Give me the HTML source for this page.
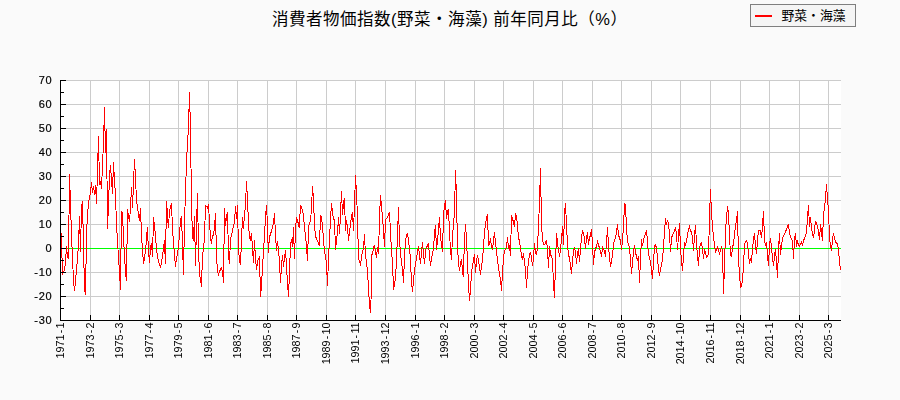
<!DOCTYPE html>
<html lang="ja"><head><meta charset="utf-8"><title>消費者物価指数(野菜・海藻) 前年同月比（%）</title>
<style>
html,body{margin:0;padding:0;background:#fafafa;}
body{width:900px;height:400px;overflow:hidden;font-family:"Liberation Sans",sans-serif;}
svg{display:block;}
.yl text{font:11px "Liberation Sans",sans-serif;fill:#000;stroke:#000;stroke-width:.2px;text-anchor:end;letter-spacing:.8px}
.xl text{font:11.6px "Liberation Sans",sans-serif;fill:#000;text-anchor:end}
</style></head><body>
<svg width="900" height="400" viewBox="0 0 900 400" role="img" aria-label="消費者物価指数(野菜・海藻) 前年同月比（%）">
<rect width="900" height="400" fill="#fafafa"/>
<rect x="60" y="80" width="781" height="241" fill="#fff"/>
<path shape-rendering="crispEdges" fill="#cccccc" d="M90 80h1v240h-1zM119 80h1v240h-1zM149 80h1v240h-1zM178 80h1v240h-1zM208 80h1v240h-1zM237 80h1v240h-1zM267 80h1v240h-1zM296 80h1v240h-1zM326 80h1v240h-1zM355 80h1v240h-1zM385 80h1v240h-1zM415 80h1v240h-1zM444 80h1v240h-1zM474 80h1v240h-1zM503 80h1v240h-1zM533 80h1v240h-1zM562 80h1v240h-1zM592 80h1v240h-1zM621 80h1v240h-1zM651 80h1v240h-1zM680 80h1v240h-1zM710 80h1v240h-1zM740 80h1v240h-1zM769 80h1v240h-1zM799 80h1v240h-1zM828 80h1v240h-1zM61 80h780v1h-780zM61 104h780v1h-780zM61 128h780v1h-780zM61 152h780v1h-780zM61 176h780v1h-780zM61 200h780v1h-780zM61 224h780v1h-780zM61 248h780v1h-780zM61 272h780v1h-780zM61 296h780v1h-780z"/>
<rect shape-rendering="crispEdges" x="61" y="248" width="780" height="1" fill="#00ff00"/>
<path id="series" fill="none" stroke="#ff0000" stroke-width="1" stroke-linejoin="miter" shape-rendering="crispEdges" d="M60.5 226.5 61.5 239.5 62.5 274.5 64.5 270 65.5 262 66.5 246 67.5 257 68.5 258.5 69.5 174 71.5 235 72.5 258 73.5 280 74.5 291 75.5 281 77.5 258 78.5 245 79.5 216 80.5 251.5 81.5 207 82.5 201 84.5 289 85.5 295 86.5 234 87.5 215 88.5 203 90.5 193 91.5 182 92.5 193 93.5 186 94.5 194.5 95.5 185 96.5 203.5 97.5 170 98.5 136 99.5 185 100.5 181 101.5 188.5 102.5 165 103.5 143 104.5 107 105.5 153 106.5 129 107.5 228.5 108.5 205 109.5 176 110.5 165 111.5 181 112.5 193.5 113.5 162 114.5 180 115.5 195 116.5 225 117.5 240 118.5 258 119.5 271 120.5 290 121.5 211 122.5 213 123.5 238 124.5 255 125.5 272 126.5 281 127.5 209 128.5 216 129.5 221.5 130.5 208 131.5 187 132.5 207.5 133.5 183 134.5 159 135.5 178 136.5 200 137.5 207 138.5 214 139.5 221 140.5 208 141.5 235 142.5 250 143.5 263.5 144.5 258 145.5 250 146.5 240 147.3 227 148.5 250 149.5 263 150.5 248 151.5 243 152.5 257 153.5 217 154.5 226 155.5 236 156.5 250 157.5 255 158.5 262 159.5 264 160.5 268 161.5 262 162.5 256 163.5 249 164.5 240 165.4 264 166.5 201 167.5 215 168.3 228 169.5 212 170.5 207 171.5 203 172.5 229 173.5 243 174.5 255 175.5 267 176.5 258 177.5 254 178.5 247 179.5 233 180.5 221 181.5 216 182.5 245 183.5 275 184.5 220 185.5 194 186.5 160 187.5 144 188.5 126 189.5 92 190.5 130 191.5 205 192.5 236 193.4 241 194.5 216 195.5 266 196.5 225 197.5 193 198.5 250 199.5 274 200.5 279 201.5 286.5 202.5 255 203.5 250 204.5 236 205.5 206 206.5 206.5 207.5 208 208.5 204 209.5 222 210.5 238 211.5 243.5 212.5 235 213.5 235 214.5 227 215.5 213 216.5 255 217.5 272 218.5 274.5 219.5 272 220.5 269 221.5 268 222.5 272 223.5 282.5 224.5 208 225.5 226 226.5 217 227.5 212 228.5 255 229.5 264 230.5 238 231.5 236 232.5 230 233.5 226 234.5 222 235.5 206 236.5 219 237.5 205 238.5 250 239.5 260 240.5 265 241.5 240 242.5 217 243.3 229 244.5 216 245.5 205 246.5 181 247.5 200 248.5 223 249.5 238 250.5 240 251.5 233 252.5 248 253.5 263 254.5 240 255.5 258 256.5 270 257.5 262 258.5 258.5 259.5 257 260.5 296.5 261.5 285 262.5 268 263.5 250 264.5 236 265.5 217 266.5 205 267.5 225 268.3 252.5 269.5 237 270.5 234 271.5 231 272.5 227 273.5 223 274.5 213 275.5 235 276.5 251 277.5 241 278.5 250 279.5 261.5 280.5 283 281.5 265 282.5 255 283.5 267 284.5 258 285.5 250 286.5 266 287.5 283 288.5 296.5 289.5 272 290.5 245 291.5 239 292.5 247 293.5 227 294.5 259 295.5 229 296.5 217 297.5 221 298.5 224 299.3 228 300.5 205 301.5 208 302.5 210.5 303.5 216 304.5 227 305.5 236 306.5 246 307.5 261 308.5 228 309.5 223 310.5 221.5 311.5 208 312.5 186 313.5 200 314.5 225 315.5 236 316.5 239 317.5 241 318.5 243.5 319.5 246 320.5 215 321.5 218 322.5 226 323.5 240 324.5 252 325.5 256.5 326.5 264 327.5 286 328.5 258 329.5 238 330.5 220 331.5 203 332.5 213 333.5 218 334.5 221 335.5 249.5 336.5 240 337.5 233 338.5 217 339.5 234 340.5 214 341.5 191 342.5 215 343.5 203 344.5 198 345.5 231 346.5 220 347.5 227 348.5 240.5 349.5 232 350.5 224 351.5 216 352.5 212 353.5 231 354.5 205 355.5 175 356.5 193 357.5 217 358.5 259 359.5 261 360.5 265.5 361.5 256 362.5 251.5 363.5 249 364.5 234 365.5 256 366.5 262 367.5 271 368.5 288 369.5 305 370.5 312.5 371 300 371.9 254 372.5 254 373.5 248 374.5 245 375.5 252 376.5 257.5 377.5 247 378.5 254 379.5 218 380.5 195 381.5 207 382.5 216 383.5 232 384.5 246.5 385.5 220 386.5 219.5 387.5 217 388.5 215 389.5 212 390.5 232 391.5 251 392.5 262 393.5 289.5 394.5 284 395.5 278 396.5 260 397.5 235 398.5 207 399.5 240 400.5 253 401.5 262 402.5 270 403.5 282.5 404.5 257 405.5 241 406.5 236 407.5 233 408.5 241 409.5 248 410.5 260 411.5 283 412.5 291.5 413.5 280 414.5 270 415.5 264 416.5 258 417.5 252 418.5 246 419.5 256 420.5 264 421.5 252 422.5 242 423.5 254 424.5 264 425.5 252 426.5 247 427.5 246 428.5 243 429.5 256 430.5 266 431.5 258 432.5 254 433.5 248 434.5 234 435.5 225 436.5 250 437.5 240 438.5 230 439.5 217 440.5 238 441.5 244 442.5 252 443.5 215 444.5 206 445.5 200 446.5 219 447.5 212 448.5 209 449.5 232 450.5 250 451.5 260 452.5 236 453.5 224 454.5 212 455.5 170 456.5 196 457.5 248 458.5 262 459.5 271 460.5 263 461.5 259 462.5 270 463.2 277 464.5 240 465.5 224 466.5 240 467.5 262 468.5 285 469.5 300.5 470.5 290 471.5 272 472.5 265.5 473.5 261 474.5 254 475.5 273 476.5 262 477.5 255 478.5 260 479.5 267 480.5 275 481.5 266 482.5 260 483.5 247 484.5 232 485.5 224 486.5 219 487.5 214 488.5 246 489.5 243 490.5 240 491.5 245 492.5 250 493.5 241 494.5 232 495.5 243 496.5 251 497.5 260 498.5 268 499.5 274 500.5 279 501.5 291 502.5 272 503.5 258 504.5 251 505.5 249 506.5 247 507.5 237 508.5 248 509.5 246 510.5 255.5 511.5 215 512.5 219 513.5 222 514.5 227 515.5 214 516.5 215.5 517.5 226 518.5 238 519.5 241 520.5 248 521.5 255 522.5 260 523.5 253 524.5 262 525.5 270 526.5 288 527.5 271 528.5 262 529.5 255 530.5 252 531.5 258 532.5 265.5 533.5 258 534.5 243 535.5 252 536.5 255 537.5 247 538.5 226 539.5 202 540.5 168 541.5 224 542.5 240 543.5 244 544.5 244.5 545.5 243 546.5 240 547.5 250 548.5 268 549.5 246 550.5 254 551.5 257 552.5 259 553.5 285 554.5 297.5 555.5 264.5 556.5 233 557.5 243 558.5 250 559.5 256.5 560.5 249 561.5 240 562.5 226 563.5 245 564.5 214 565.5 203 566.5 225 567.5 244 568.5 255 569.5 258 570.5 266 571.5 273.5 572.5 261 573.5 252 574.5 247 575.5 253 576.5 263.5 577.5 253 578.5 248.5 579.5 262 580.5 248 581.5 238 582.5 230 583.5 234 584.5 238 585.5 249 586.5 238 587.5 232 588.5 245 589.5 238 590.5 235 591.5 229 592.5 245 593.5 265 594.5 252 595.5 249 596.5 246 597.5 242 598.5 245 599.5 248 600.5 252 601.5 256.5 602.5 247 603.5 249 604.5 251 605.5 256.5 606.5 243 607.5 227 608.5 246 609.5 258 610.5 266.5 611.5 262 612.5 255 613.5 245 614.5 240 615.5 238 616.5 232 617.5 224 618.5 235 619.5 238 620.5 241 621.5 249.5 622.5 240 623.5 227 624.5 204 625.5 204.5 626.5 228 627.5 241 628.5 244.5 629.5 248 630.5 260 631.5 273.5 632.5 262 633.5 252 634.5 245 635.5 253 636.5 256 637.5 261 638.5 256 639.5 283 640.5 258 641.5 239 642.5 246 643.5 241 644.5 236 645.5 233.5 646.5 230 647.5 242 648.5 255 649.5 257 650.5 262 651.5 270 652.5 279 653.5 262 654.5 246 655.5 245 656.5 248 657.5 257 658.5 270 659.5 276 660.5 268 661.5 266 662.5 259 663.5 247 664.5 232 665.5 218 666.5 225 667.5 220 668.5 224 669.5 234 670.5 252 671.5 238 672.5 235 673.5 233 674.5 230.5 675.5 227 676.5 235 677.5 249.5 678.5 236 679.5 223 680.5 248 681.5 262 682.5 270.5 683.5 255 684.5 243 685.5 245 686.5 241 687.5 235 688.5 230 689.5 227 690.5 231 691.5 232 692.5 238 693.5 250.5 694.5 236 695.5 225 696.5 243 697.5 256 698.5 265.5 699.5 248 700.5 244 701.5 242.5 702.5 250 703.5 258.5 704.5 249 705.5 253 706.5 257.5 707.5 256 708.5 254 709.5 218 710.5 189 711.5 213 712.5 227 713.5 237 714.5 245 715.5 252.5 716.5 249 717.5 247 718.5 250 719.5 254.5 720.5 250 721.5 247.5 722.5 251 723.5 294 724.5 266 725.5 231 726.5 218 727.5 206 728.5 214 729.5 235 730.5 255 731.5 256.5 732.5 247 733.5 244 734.5 234 735.5 226 736.5 221 737.5 211 738.5 259 739.5 275 740.5 287 741.5 286 742.5 281 743.5 266 744.5 244 745.5 242 746.5 240.5 747.5 243 748.5 254 749.5 263.5 750.5 258 751.5 262.5 752.5 248 753.5 240 754.5 233 755.5 246 756.5 254 757.5 240 758.5 230 759.5 230 760.5 231 761.5 238 762.5 226 763.5 211 764.5 240 765.5 246 766.5 242 767.5 255 768.5 266 769.5 244 770.5 238 771.5 248 772.5 258 773.5 266 774.5 256 775.5 249 776.5 262 777.5 278 778.5 250 779.5 233 780.5 255 781.5 246 782.5 238 783.5 236 784.5 234 785.5 232 786.5 229 787.5 227 788.5 224 789.5 233 790.5 237.5 791.5 238.5 792.5 241 793.5 259 794.5 240 795.5 233 796.5 247 797.5 242 798.5 245 799.5 246.5 800.5 244 801.5 242 802.5 245.5 803.5 241 804.5 238 805.5 236 806.5 232 807.5 218 808.5 205 809.5 227 810.5 217 811.5 228 812.5 233 813.5 238 814.5 230 815.5 221 816.5 224 817.5 226 818.5 231 819.5 240 820.5 224 822.5 241 823.5 214 824.5 208 825.5 198 826.5 184 827.5 200 828.5 210 829.5 238 830.5 246 831.5 250.5 832.5 240 833.5 233 834.5 238 835.5 242.5 836.5 243 837.5 244 838.5 250 839.5 262 840.5 270"/>
<path shape-rendering="crispEdges" fill="#000" d="M60 80h1v241h-1zM60 320h781v1h-781zM61 80h5v1h-5zM61 92h3v1h-3zM61 104h5v1h-5zM61 116h3v1h-3zM61 128h5v1h-5zM61 140h3v1h-3zM61 152h5v1h-5zM61 164h3v1h-3zM61 176h5v1h-5zM61 188h3v1h-3zM61 200h5v1h-5zM61 212h3v1h-3zM61 224h5v1h-5zM61 236h3v1h-3zM61 248h5v1h-5zM61 260h3v1h-3zM61 272h5v1h-5zM61 284h3v1h-3zM61 296h5v1h-5zM61 308h3v1h-3zM61 320h5v1h-5zM90 315h1v5h-1zM119 315h1v5h-1zM149 315h1v5h-1zM178 315h1v5h-1zM208 315h1v5h-1zM237 315h1v5h-1zM267 315h1v5h-1zM296 315h1v5h-1zM326 315h1v5h-1zM355 315h1v5h-1zM385 315h1v5h-1zM415 315h1v5h-1zM444 315h1v5h-1zM474 315h1v5h-1zM503 315h1v5h-1zM533 315h1v5h-1zM562 315h1v5h-1zM592 315h1v5h-1zM621 315h1v5h-1zM651 315h1v5h-1zM680 315h1v5h-1zM710 315h1v5h-1zM740 315h1v5h-1zM769 315h1v5h-1zM799 315h1v5h-1zM828 315h1v5h-1z"/>
<g class="yl" style="filter:grayscale(1)">
<text x="52.5" y="84.3">70</text>
<text x="52.5" y="108.3">60</text>
<text x="52.5" y="132.3">50</text>
<text x="52.5" y="156.3">40</text>
<text x="52.5" y="180.3">30</text>
<text x="52.5" y="204.3">20</text>
<text x="52.5" y="228.3">10</text>
<text x="52.5" y="252.3">0</text>
<text x="52.5" y="276.3">-10</text>
<text x="52.5" y="300.3">-20</text>
<text x="52.5" y="324.3">-30</text>
</g>
<g class="xl" style="filter:grayscale(1)">
<text transform="translate(64.1 322.4) rotate(-90) scale(.93 1)">1971<tspan dx="1.3">-</tspan><tspan dx="1.3">1</tspan></text>
<text transform="translate(94.1 322.4) rotate(-90) scale(.93 1)">1973<tspan dx="1.3">-</tspan><tspan dx="1.3">2</tspan></text>
<text transform="translate(123.1 322.4) rotate(-90) scale(.93 1)">1975<tspan dx="1.3">-</tspan><tspan dx="1.3">3</tspan></text>
<text transform="translate(153.1 322.4) rotate(-90) scale(.93 1)">1977<tspan dx="1.3">-</tspan><tspan dx="1.3">4</tspan></text>
<text transform="translate(182.1 322.4) rotate(-90) scale(.93 1)">1979<tspan dx="1.3">-</tspan><tspan dx="1.3">5</tspan></text>
<text transform="translate(212.1 322.4) rotate(-90) scale(.93 1)">1981<tspan dx="1.3">-</tspan><tspan dx="1.3">6</tspan></text>
<text transform="translate(241.1 322.4) rotate(-90) scale(.93 1)">1983<tspan dx="1.3">-</tspan><tspan dx="1.3">7</tspan></text>
<text transform="translate(271.1 322.4) rotate(-90) scale(.93 1)">1985<tspan dx="1.3">-</tspan><tspan dx="1.3">8</tspan></text>
<text transform="translate(300.1 322.4) rotate(-90) scale(.93 1)">1987<tspan dx="1.3">-</tspan><tspan dx="1.3">9</tspan></text>
<text transform="translate(330.1 322.4) rotate(-90) scale(.93 1)">1989<tspan dx="1.3">-</tspan><tspan dx="1.3">10</tspan></text>
<text transform="translate(359.1 322.4) rotate(-90) scale(.93 1)">1991<tspan dx="1.3">-</tspan><tspan dx="1.3">11</tspan></text>
<text transform="translate(389.1 322.4) rotate(-90) scale(.93 1)">1993<tspan dx="1.3">-</tspan><tspan dx="1.3">12</tspan></text>
<text transform="translate(419.1 322.4) rotate(-90) scale(.93 1)">1996<tspan dx="1.3">-</tspan><tspan dx="1.3">1</tspan></text>
<text transform="translate(448.1 322.4) rotate(-90) scale(.93 1)">1998<tspan dx="1.3">-</tspan><tspan dx="1.3">2</tspan></text>
<text transform="translate(478.1 322.4) rotate(-90) scale(.93 1)">2000<tspan dx="1.3">-</tspan><tspan dx="1.3">3</tspan></text>
<text transform="translate(507.1 322.4) rotate(-90) scale(.93 1)">2002<tspan dx="1.3">-</tspan><tspan dx="1.3">4</tspan></text>
<text transform="translate(537.1 322.4) rotate(-90) scale(.93 1)">2004<tspan dx="1.3">-</tspan><tspan dx="1.3">5</tspan></text>
<text transform="translate(566.1 322.4) rotate(-90) scale(.93 1)">2006<tspan dx="1.3">-</tspan><tspan dx="1.3">6</tspan></text>
<text transform="translate(596.1 322.4) rotate(-90) scale(.93 1)">2008<tspan dx="1.3">-</tspan><tspan dx="1.3">7</tspan></text>
<text transform="translate(625.1 322.4) rotate(-90) scale(.93 1)">2010<tspan dx="1.3">-</tspan><tspan dx="1.3">8</tspan></text>
<text transform="translate(655.1 322.4) rotate(-90) scale(.93 1)">2012<tspan dx="1.3">-</tspan><tspan dx="1.3">9</tspan></text>
<text transform="translate(684.1 322.4) rotate(-90) scale(.93 1)">2014<tspan dx="1.3">-</tspan><tspan dx="1.3">10</tspan></text>
<text transform="translate(714.1 322.4) rotate(-90) scale(.93 1)">2016<tspan dx="1.3">-</tspan><tspan dx="1.3">11</tspan></text>
<text transform="translate(744.1 322.4) rotate(-90) scale(.93 1)">2018<tspan dx="1.3">-</tspan><tspan dx="1.3">12</tspan></text>
<text transform="translate(773.1 322.4) rotate(-90) scale(.93 1)">2021<tspan dx="1.3">-</tspan><tspan dx="1.3">1</tspan></text>
<text transform="translate(803.1 322.4) rotate(-90) scale(.93 1)">2023<tspan dx="1.3">-</tspan><tspan dx="1.3">2</tspan></text>
<text transform="translate(832.1 322.4) rotate(-90) scale(.93 1)">2025<tspan dx="1.3">-</tspan><tspan dx="1.3">3</tspan></text>
</g>
<rect x="750.5" y="4.5" width="105" height="22" fill="#f5f5f5" stroke="#7f7f7f" stroke-width="1" shape-rendering="crispEdges"/>
<rect x="755" y="15" width="17" height="2" fill="#ff0000" shape-rendering="crispEdges"/>
<text x="781.5" y="20" font-size="12.8" fill="#000" font-family="&quot;Liberation Sans&quot;, &quot;Noto Sans CJK JP&quot;, sans-serif">野菜・海藻</text>
<text x="449.5" y="24.5" font-size="16.5" fill="#000" text-anchor="middle" textLength="355" lengthAdjust="spacing" font-family="&quot;Liberation Sans&quot;, &quot;Noto Sans CJK JP&quot;, sans-serif">消費者物価指数(野菜・海藻) 前年同月比（%）</text>
</svg></body></html>
